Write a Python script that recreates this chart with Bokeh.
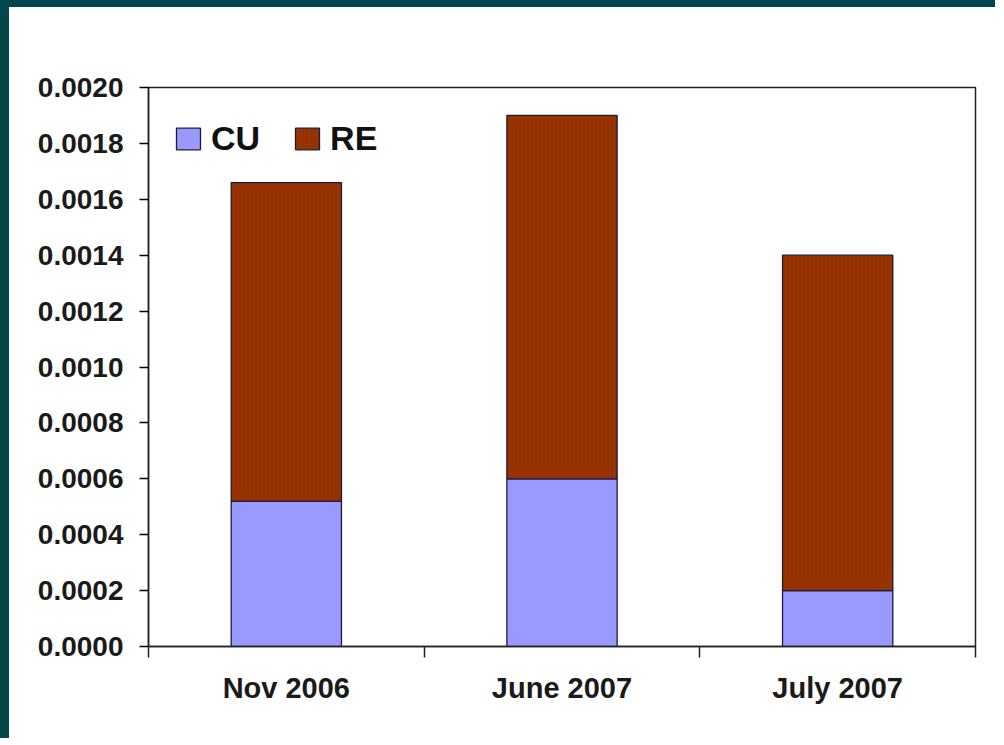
from bokeh.plotting import figure
from bokeh.models import FixedTicker, Legend, LegendItem, ColumnDataSource, NumeralTickFormatter
from bokeh.embed import file_html
from bokeh.resources import INLINE
import numpy as np

# ---- data ----
categories = ["Nov 2006", "June 2007", "July 2007"]
cu_values = [0.00052, 0.00060, 0.00020]
re_values = [0.00114, 0.00130, 0.00120]
y_ticks = [0.0, 0.0002, 0.0004, 0.0006, 0.0008, 0.0010, 0.0012, 0.0014, 0.0016, 0.0018, 0.0020]

TEAL = "#03474A"
CU_COLOR = "#9999FF"
RE_COLOR = "#993300"
EDGE = "#1c1c3a"
FONT = "Liberation Sans"

x = np.arange(len(categories)) + 0.5
cu = np.array(cu_values)
re = np.array(re_values)
src = ColumnDataSource(dict(x=x, cu=cu, total=cu + re, zero=np.zeros(len(x))))

W, H = 1004 - 9, 745 - 7
p = figure(width=W, height=H, output_backend="svg", toolbar_location=None,
           x_range=(0, len(categories)), y_range=(0, 0.0020),
           min_border_left=139, min_border_right=29, min_border_top=80, min_border_bottom=99,
           border_fill_color="white", background_fill_color="white")
p.styles = {"border-top": f"7px solid {TEAL}", "border-left": f"9px solid {TEAL}"}
p.grid.visible = False
p.outline_line_color = "#222222"
p.outline_line_width = 1.5

r_cu = p.vbar(x="x", bottom="zero", top="cu", width=0.4, source=src,
              fill_color=CU_COLOR, line_color=EDGE, line_width=1.3)
r_re = p.vbar(x="x", bottom="cu", top="total", width=0.4, source=src,
              fill_color=RE_COLOR, line_color=EDGE, line_width=1.3,
              hatch_pattern="|", hatch_color="#7a2600", hatch_alpha=0.35, hatch_scale=4, hatch_weight=1)

# y axis
ya = p.yaxis[0]
ya.ticker = FixedTicker(ticks=y_ticks)
ya.formatter = NumeralTickFormatter(format="0.0000")
ya.axis_line_color = "#222222"
ya.axis_line_width = 1.5
ya.major_tick_out = 9
ya.major_tick_in = 0
ya.minor_tick_line_color = None
ya.major_tick_line_width = 1.5
ya.major_label_standoff = 16
ya.major_label_text_font = FONT
ya.major_label_text_font_style = "bold"
ya.major_label_text_font_size = "28px"
ya.major_label_text_color = "#1a1a1a"

# x axis
xa = p.xaxis[0]
xa.ticker = FixedTicker(ticks=list(x), minor_ticks=list(np.arange(len(categories) + 1)))
xa.major_label_overrides = {float(v): c for v, c in zip(x, categories)}
xa.axis_line_color = "#222222"
xa.axis_line_width = 1.5
xa.major_tick_line_color = None
xa.major_tick_out = 0
xa.major_tick_in = 0
xa.minor_tick_out = 11
xa.minor_tick_in = 0
xa.minor_tick_line_color = "#222222"
xa.minor_tick_line_width = 1.5
xa.major_label_standoff = 14
xa.major_label_text_font = FONT
xa.major_label_text_font_style = "bold"
xa.major_label_text_font_size = "29px"
xa.major_label_text_color = "#1a1a1a"

legend = Legend(items=[LegendItem(label="CU", renderers=[r_cu]),
                       LegendItem(label="RE", renderers=[r_re])],
                location="top_left", orientation="horizontal",
                margin=25, padding=10, spacing=32, label_standoff=8,
                glyph_width=30, glyph_height=27, label_height=52,
                label_text_font=FONT, label_text_font_style="bold",
                label_text_font_size="34px", label_text_color="#111111",
                border_line_color=None, background_fill_alpha=0)
p.add_layout(legend)

open("out.html", "w").write(file_html(p, INLINE))
